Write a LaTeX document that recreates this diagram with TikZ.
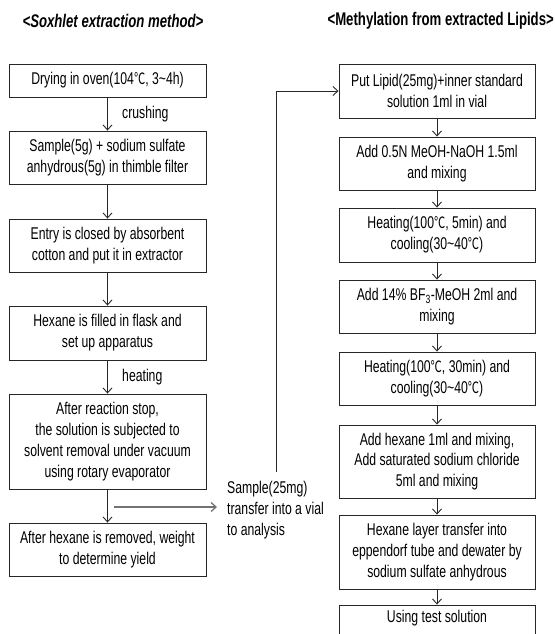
\documentclass[tikz,border=0pt]{standalone}
\usepackage{fontspec}
\setmainfont{Liberation Sans}[FakeStretch=0.72]
\newfontfamily\cjk{Noto Sans CJK SC}[FakeStretch=0.72,Scale=0.92]
\newcommand{\degc}{{\cjk ℃}}
\usetikzlibrary{arrows.meta}
\begin{document}
\begin{tikzpicture}[x=1pt,y=-1pt,
  font=\fontsize{17}{20.8}\selectfont,
  box/.style={draw=black!85, line width=0.9pt, align=center, inner sep=0pt,
    minimum width=197pt},
  lbl/.style={inner sep=0pt, anchor=west},
  flow/.style={draw=black!85, line width=0.9pt, -{Straight Barb[length=5pt,width=9pt]}},
  ttl/.style={font=\fontsize{18.3}{20}\selectfont\bfseries, inner sep=0pt}]
\useasboundingbox (0,0) rectangle (554,634);
% titles
\node[ttl] (t1) at (113,21) {\itshape <Soxhlet extraction method>};
\node[ttl, anchor=east] (t2) at (554,21) {<Methylation from extracted Lipids>};
% left column
\node[box, minimum height=33pt] (L1) at (107.5,80.5) {Drying in oven(104\degc, 3\textasciitilde4h)};
\node[box, minimum height=53pt] (L2) at (107.5,157.5) {Sample(5g) + sodium sulfate\\anhydrous(5g) in thimble filter};
\node[box, minimum height=53pt] (L3) at (107.5,245.5) {Entry is closed by absorbent\\cotton and put it in extractor};
\node[box, minimum height=54pt] (L4) at (107.5,333) {Hexane is filled in flask and\\set up apparatus};
\node[box, minimum height=95pt] (L5) at (107.5,441.5) {After reaction stop,\\the solution is subjected to\\solvent removal under vacuum\\using rotary evaporator};
\node[box, minimum height=53pt] (L6) at (107.5,549.5) {After hexane is removed, weight\\to determine yield};
\node[lbl] (crush) at (122,114) {crushing};
\node[lbl] (heat) at (122,377) {heating};
\draw[flow] (L1) -- (L2);
\draw[flow] (L2) -- (L3);
\draw[flow] (L3) -- (L4);
\draw[flow] (L4) -- (L5);
\draw[flow] (L5) -- (L6);
% right column
\node[box, minimum width=196pt, minimum height=54pt] (R1) at (437,91) {Put Lipid(25mg)+inner standard\\solution 1ml in vial};
\node[box, minimum width=196pt, minimum height=53pt] (R2) at (437,163.5) {Add 0.5N MeOH-NaOH 1.5ml\\and mixing};
\node[box, minimum width=196pt, minimum height=54pt] (R3) at (437,235) {Heating(100\degc, 5min) and\\cooling(30\textasciitilde40\degc)};
\node[box, minimum width=196pt, minimum height=53pt] (R4) at (437,306.5) {Add 14\% BF\textsubscript{3}-MeOH 2ml and\\mixing};
\node[box, minimum width=196pt, minimum height=53pt] (R5) at (437,378.5) {Heating(100\degc, 30min) and\\cooling(30\textasciitilde40\degc)};
\node[box, minimum width=196pt, minimum height=73pt] (R6) at (437,461.5) {Add hexane 1ml and mixing,\\Add saturated sodium chloride\\5ml and mixing};
\node[box, minimum width=196pt, minimum height=74pt] (R7) at (437,552) {Hexane layer transfer into\\eppendorf tube and dewater by\\sodium sulfate anhydrous};
\node[box, minimum width=196pt, minimum height=53pt, text depth=30pt] (R8) at (437,631.5) {Using test solution};
\draw[flow] (R1) -- (R2);
\draw[flow] (R2) -- (R3);
\draw[flow] (R3) -- (R4);
\draw[flow] (R4) -- (R5);
\draw[flow] (R5) -- (R6);
\draw[flow] (R6) -- (R7);
\draw[flow] (R7) -- (R8);
% transfer
\node[align=left, inner sep=0pt, anchor=north west] (samp) at (227,481) {Sample(25mg)\\transfer into a vial\\to analysis};
\coordinate (hs) at (114,507);
\coordinate (he) at (217,507);
\draw[draw=black!55, line width=1.3pt, -{Straight Barb[length=5pt,width=9pt]}] (hs) -- (he);
\coordinate (vs) at (276,472);
\draw[flow] (vs) -- (vs |- R1.west) -- (R1.west);
\end{tikzpicture}
\end{document}
